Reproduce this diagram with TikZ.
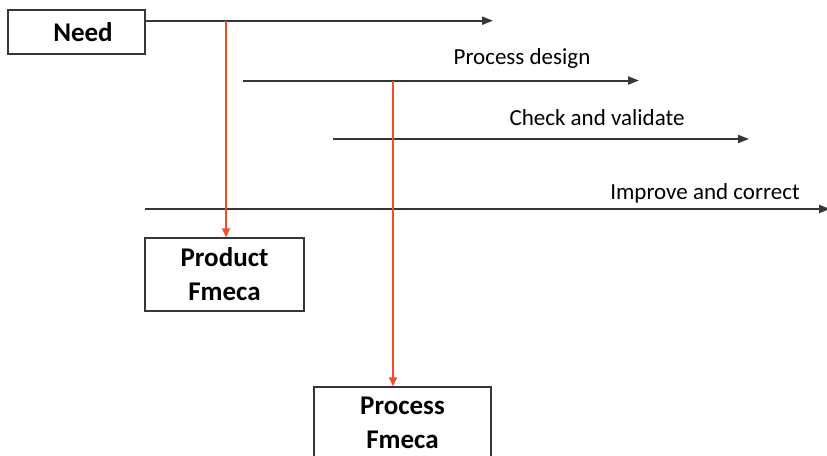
\documentclass[tikz,border=0pt]{standalone}
\usepackage{fontspec}
\setmainfont{Carlito}
\usetikzlibrary{arrows.meta}
\definecolor{lineg}{RGB}{55,55,55}
\definecolor{redl}{RGB}{238,78,40}
\tikzset{
  flow/.style={draw=lineg, line width=2pt, -{Triangle[length=11pt,width=8pt]}},
  redarrow/.style={draw=redl, line width=1.6pt, -{Triangle[length=9pt,width=8pt]}},
  box/.style={draw=lineg, line width=1.5pt, rectangle, inner sep=0pt, align=center,
    font=\fontsize{27}{34}\selectfont\bfseries},
  lbl/.style={font=\fontsize{23}{28}\selectfont, anchor=base, inner sep=0pt}
}
\begin{document}
\begin{tikzpicture}[x=1pt,y=-1pt]
\clip (0,0) rectangle (827,455);
\fill[white] (0,0) rectangle (827,455);
% boxes
\node[box, minimum width=137pt, minimum height=44pt] (need) at (76.5,32) {\hspace*{13pt}Need};
\node[box, minimum width=159pt, minimum height=73pt] (product) at (224.5,274.5) {Product\\Fmeca};
\node[box, minimum width=177pt, minimum height=71pt] (process) at (402.5,422.5) {Process\\Fmeca};
% horizontal arrows
\coordinate (a1s) at (145.5,20.7);
\coordinate (a1e) at (493,20.7);
\coordinate (a2s) at (243,80.5);
\coordinate (a2e) at (639,80.5);
\coordinate (a3s) at (333,139);
\coordinate (a3e) at (749,139);
\coordinate (a4s) at (145,209);
\coordinate (a4e) at (830,209);
\draw[flow] (a1s) -- (a1e);
\draw[flow] (a2s) -- (a2e);
\draw[flow] (a3s) -- (a3e);
\draw[flow] (a4s) -- (a4e);
% labels
\node[lbl] (pd) at (522,64) {Process design};
\node[lbl] (cv) at (597,125) {Check and validate};
\node[lbl] (ic) at (705,199) {Improve and correct};
% red arrows
\coordinate (r1) at (226,20.7);
\coordinate (r2) at (393,80.5);
\draw[redarrow] (r1) -- (r1 |- product.north);
\draw[redarrow] (r2) -- (r2 |- process.north);
\end{tikzpicture}
\end{document}
